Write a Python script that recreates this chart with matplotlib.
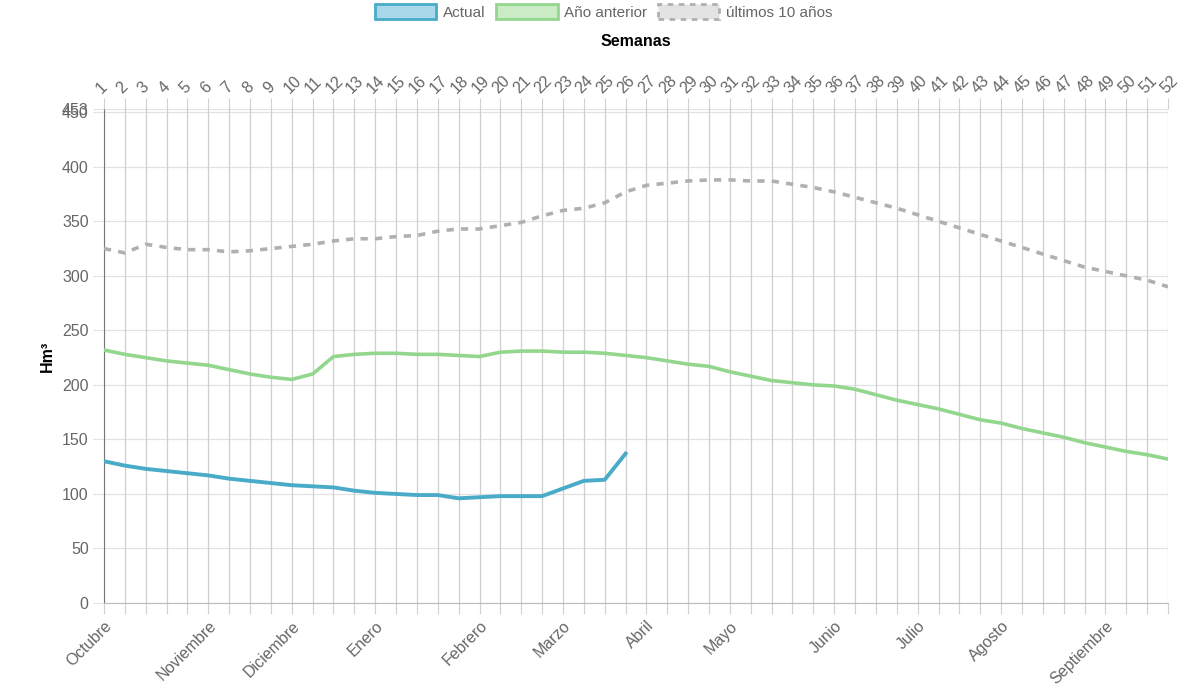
import matplotlib.pyplot as plt
from matplotlib.patches import Patch

plt.rcParams['font.family'] = ['Liberation Sans', 'DejaVu Sans']

weeks = list(range(1, 53))

# Hm3 per week
actual = [130, 126, 123, 121, 119, 117, 114, 112, 110, 108, 107, 106, 103,
          101, 100, 99, 99, 96, 97, 98, 98, 98, 105, 112, 113, 137]
prev_year = [232, 228, 225, 222, 220, 218, 214, 210, 207, 205, 210, 226, 228,
             229, 229, 228, 228, 227, 226, 230, 231, 231, 230, 230, 229, 227,
             225, 222, 219, 217, 212, 208, 204, 202, 200, 199, 196, 191, 186,
             182, 178, 173, 168, 165, 160, 156, 152, 147, 143, 139, 136, 132]
last10 = [325, 321, 329, 326, 324, 324, 322, 323, 325, 327, 329, 332, 334,
          334, 336, 337, 341, 343, 343, 346, 349, 355, 360, 362, 367, 377,
          383, 385, 387, 388, 388, 387, 387, 384, 381, 377, 372, 367, 362,
          356, 350, 344, 338, 332, 326, 320, 314, 308, 304, 300, 296, 290]

month_names = ['Octubre', 'Noviembre', 'Diciembre', 'Enero', 'Febrero', 'Marzo',
               'Abril', 'Mayo', 'Junio', 'Julio', 'Agosto', 'Septiembre']
month_weeks = [1, 6, 10, 14, 19, 23, 27, 31, 36, 40, 44, 49]

y_ticks = [0, 50, 100, 150, 200, 250, 300, 350, 400, 450, 453]

c_blue = '#4aabc9'
c_green = '#93d68e'
c_gray = '#b0b0b0'
tick_col = '#666666'
fs = 11.5

fig = plt.figure(figsize=(12, 6.91), dpi=100)
ax = fig.add_axes([104/1200, 88/691, 1064/1200, 494/691])

ax.plot(weeks, last10, color=c_gray, lw=2.6, dashes=(2.0, 2.0), zorder=3)
ax.plot(weeks, prev_year, color=c_green, lw=2.6, zorder=4)
ax.plot(weeks[:len(actual)], actual, color=c_blue, lw=2.8, zorder=5)

ax.set_xlim(1, 52)
ax.set_ylim(0, 453)

ax.set_yticks(y_ticks)
ax.set_yticklabels([str(v) for v in y_ticks])
ax.set_xticks(weeks)
lbl = dict(zip(month_weeks, month_names))
ax.set_xticklabels([lbl.get(w, '') for w in weeks], rotation=45, ha='right',
                   rotation_mode='anchor')

for v in y_ticks:
    ax.axhline(v, color='#e2e2e2', lw=0.9, zorder=1)
for w in weeks:
    ax.axvline(w, color='#cfcfcf', lw=0.9, zorder=1)

for s in ['top', 'right']:
    ax.spines[s].set_visible(False)
ax.spines['left'].set_color('#777777')
ax.spines['bottom'].set_color('#bbbbbb')
ax.tick_params(axis='x', length=8, color='#d0d0d0', labelcolor=tick_col,
               labelsize=fs, pad=3)
ax.tick_params(axis='y', length=8, color='#e2e2e2', labelcolor=tick_col,
               labelsize=fs, pad=3)
ax.set_ylabel('Hm³', fontweight='bold', fontsize=fs, labelpad=5)

ax2 = ax.twiny()
ax2.set_xlim(1, 52)
ax2.set_xticks(weeks)
ax2.set_xticklabels([str(w) for w in weeks], rotation=45, ha='left',
                    va='bottom', rotation_mode='anchor')
ax2.tick_params(axis='x', length=8, color='#d0d0d0', labelcolor=tick_col,
                labelsize=fs, pad=1)
for s in ax2.spines.values():
    s.set_visible(False)

fig.text(636/1200, 1 - 42/691, 'Semanas', ha='center', va='center',
         fontweight='bold', fontsize=fs)

handles = [
    Patch(facecolor='#a9d8ea', edgecolor=c_blue, lw=2, label='Actual'),
    Patch(facecolor='#c9ecc6', edgecolor=c_green, lw=2, label='Año anterior'),
    Patch(facecolor='#e3e3e3', edgecolor=c_gray, lw=2, linestyle=(0, (2, 2)),
          label='últimos 10 años'),
]
leg = fig.legend(handles=handles, loc='center', bbox_to_anchor=(604/1200, 1 - 12/691),
                 ncol=3, frameon=False, handlelength=4.0, handleheight=1.1,
                 columnspacing=0.7, handletextpad=0.45, fontsize=11)
for t in leg.get_texts():
    t.set_color(tick_col)

fig.savefig('out.png', dpi=100)
